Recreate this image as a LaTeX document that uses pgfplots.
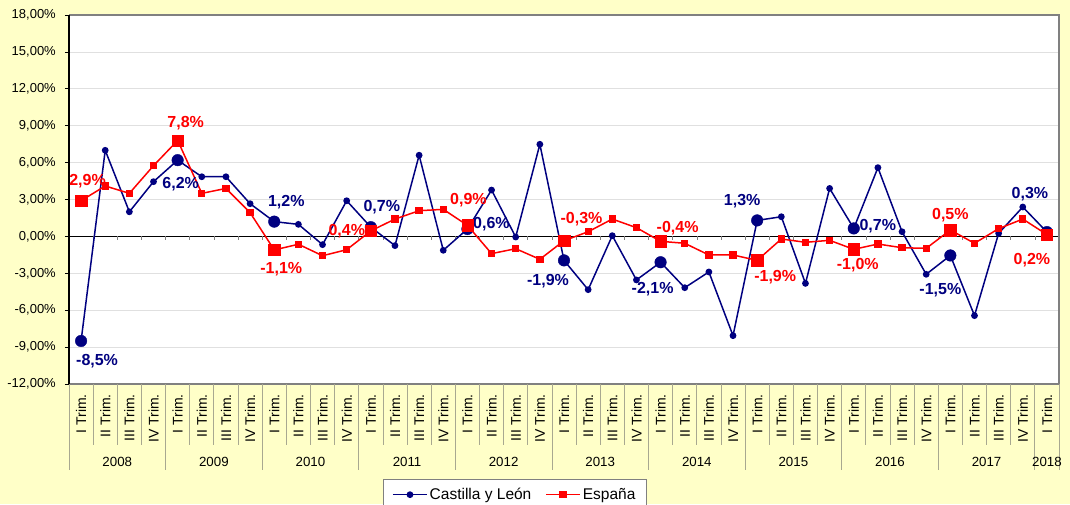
\documentclass[border=0pt]{standalone}
\usepackage{pgfplots}
\pgfplotsset{compat=1.18}
\usepackage{pgfplotstable}
\usepackage{fontspec}
\setmainfont{Liberation Sans}
\definecolor{bgy}{HTML}{FFFFC8}
\definecolor{navy}{HTML}{000080}
\definecolor{sep}{HTML}{A8A890}
\definecolor{frame}{HTML}{808080}

\pgfplotstableread{
x cyl esp
0 -8.5 2.9
1 7.0 4.1
2 2.0 3.5
3 4.45 5.75
4 6.2 7.8
5 4.85 3.5
6 4.85 3.9
7 2.66 1.93
8 1.2 -1.1
9 0.98 -0.64
10 -0.67 -1.57
11 2.9 -1.08
12 0.75 0.45
13 -0.75 1.41
14 6.6 2.09
15 -1.13 2.2
16 0.6 0.9
17 3.77 -1.4
18 -0.05 -1.0
19 7.49 -1.86
20 -1.95 -0.35
21 -4.33 0.38
22 0.06 1.41
23 -3.54 0.71
24 -2.1 -0.4
25 -4.17 -0.56
26 -2.89 -1.51
27 -8.07 -1.51
28 1.3 -1.95
29 1.6 -0.21
30 -3.82 -0.48
31 3.9 -0.32
32 0.65 -1.05
33 5.59 -0.62
34 0.38 -0.92
35 -3.08 -0.97
36 -1.55 0.52
37 -6.44 -0.56
38 0.25 0.63
39 2.39 1.41
40 0.35 0.15
}\data

\def\qA{I Trim.}
\def\qB{II Trim.}
\def\qC{III Trim.}
\def\qD{IV Trim.}

\begin{document}
\begin{tikzpicture}[x=1pt,y=1pt]
\fill[bgy] (-69,-120) rectangle (1001,384);
\path[use as bounding box] (-69,-120) rectangle (1001,384);
\begin{axis}[
  at={(0,0)}, anchor=south west,
  scale only axis, width=990pt, height=369pt,
  xmin=-0.5, xmax=40.5, ymin=-12, ymax=18,
  clip=false,
  axis background/.style={fill=white},
  axis line style={draw=none},
  xtick=\empty,
  ytick={-12,-9,...,18},
  yticklabels={{-12,00\%},{-9,00\%},{-6,00\%},{-3,00\%},{0,00\%},{3,00\%},{6,00\%},{9,00\%},{12,00\%},{15,00\%},{18,00\%}},
  ytick pos=left,
  tick align=outside,
  major tick length=4pt,
  y tick style={black, line width=0.8pt},
  yticklabel style={font=\fontsize{13}{14}\selectfont, inner sep=0pt, xshift=-9pt},
  ymajorgrids,
  grid style={draw=black!12, line width=0.8pt},
  legend style={at={(axis description cs:0.3172,-0.2575)}, anchor=north west,
    draw=frame, fill=white, font=\fontsize{15.5}{17}\selectfont,
    inner xsep=9pt, inner ysep=7pt, legend cell align=left},
  legend columns=2,
  /tikz/every even column/.append style={column sep=12pt},
  legend image code/.code={\draw[mark repeat=2,mark phase=2,#1] plot coordinates {(0pt,0pt)(17pt,0pt)(34pt,0pt)};},
]
% zero line and boundary ticks
\draw[black, line width=1pt] (axis cs:-0.5,0) -- (axis cs:40.5,0);
\pgfplotsinvokeforeach{0,...,40}{
  \draw[frame, line width=0.6pt] (axis cs:#1-0.5,0) -- ++(0pt,-4pt);
}
% series
\addplot[navy, line width=1.5pt, mark=*, mark size=2.6pt] table[x=x,y=cyl]{\data};
\addlegendentry{Castilla y León}
\addplot[red, line width=1.5pt, mark=square*, mark size=2.9pt] table[x=x,y=esp]{\data};
\addlegendentry{España}
\addplot[navy, only marks, mark=*, mark size=5.8pt, each nth point=4, forget plot] table[x=x,y=cyl]{\data};
\addplot[red, only marks, mark=square*, mark size=5.7pt, each nth point=4, forget plot] table[x=x,y=esp]{\data};
% frame
\draw[frame, line width=1.5pt] (rel axis cs:0,0) -- (rel axis cs:1,0) -- (rel axis cs:1,1) -- (rel axis cs:0,1);
\draw[black, line width=1.3pt] (rel axis cs:0,0) -- (rel axis cs:0,1);
% category labels and separators
\tikzset{ql/.style={yshift=-10pt, rotate=90, anchor=east, inner sep=0pt, font=\fontsize{14}{15}\selectfont}}
\pgfplotsinvokeforeach{0,4,...,40}{
  \node[ql] at (axis cs:#1,-12) {\qA};
}
\pgfplotsinvokeforeach{1,5,...,37}{
  \node[ql] at (axis cs:#1,-12) {\qB};
}
\pgfplotsinvokeforeach{2,6,...,38}{
  \node[ql] at (axis cs:#1,-12) {\qC};
}
\pgfplotsinvokeforeach{3,7,...,39}{
  \node[ql] at (axis cs:#1,-12) {\qD};
}
\pgfplotsinvokeforeach{0,...,40}{
  \draw[sep, line width=0.8pt] (axis cs:#1-0.5,-12) -- ++(0pt,-61pt);
}
\pgfplotsinvokeforeach{0,4,...,40}{
  \draw[sep, line width=0.8pt] (axis cs:#1-0.5,-12) -- ++(0pt,-86pt);
}
\draw[sep, line width=0.8pt] (axis cs:40.5,-12) -- ++(0pt,-86pt);
\pgfplotsinvokeforeach{2008,...,2017}{
  \node[font=\fontsize{13.3}{14}\selectfont] at (axis cs:{(#1-2008)*4+1.5},-12) [yshift=-78pt] {#1};
}
\node[font=\fontsize{13.3}{14}\selectfont] at (axis cs:40,-12) [yshift=-78pt] {2018};
% data labels
\tikzset{lr/.style={font=\bfseries\fontsize{16}{18}\selectfont, text=red, inner sep=0pt},
         lb/.style={font=\bfseries\fontsize{16}{18}\selectfont, text=navy, inner sep=0pt}}
\node[lr, xshift=6.5pt, yshift=20pt] at (axis cs:0,2.9) {2,9\%};
\node[lr, xshift=8pt, yshift=17pt] at (axis cs:4,7.8) {7,8\%};
\node[lr, xshift=7pt, yshift=-19pt] at (axis cs:8,-1.1) {-1,1\%};
\node[lr, xshift=-24pt, yshift=0pt] at (axis cs:12,0.45) {0,4\%};
\node[lr, xshift=1pt, yshift=24.7pt] at (axis cs:16,0.9) {0,9\%};
\node[lr, xshift=17.5pt, yshift=22pt] at (axis cs:20,-0.35) {-0,3\%};
\node[lr, xshift=17pt, yshift=13pt] at (axis cs:24,-0.4) {-0,4\%};
\node[lr, xshift=18pt, yshift=-17pt] at (axis cs:28,-1.95) {-1,9\%};
\node[lr, xshift=4pt, yshift=-16pt] at (axis cs:32,-1.05) {-1,0\%};
\node[lr, xshift=0pt, yshift=14.5pt] at (axis cs:36,0.52) {0,5\%};
\node[lr, xshift=-15pt, yshift=-26pt] at (axis cs:40,0.15) {0,2\%};
\node[lb, xshift=16pt, yshift=-20pt] at (axis cs:0,-8.5) {-8,5\%};
\node[lb, xshift=3pt, yshift=-24pt] at (axis cs:4,6.2) {6,2\%};
\node[lb, xshift=12pt, yshift=19.6pt] at (axis cs:8,1.2) {1,2\%};
\node[lb, xshift=11pt, yshift=20pt] at (axis cs:12,0.75) {0,7\%};
\node[lb, xshift=24pt, yshift=4.5pt] at (axis cs:16,0.6) {0,6\%};
\node[lb, xshift=-16pt, yshift=-21pt] at (axis cs:20,-1.95) {-1,9\%};
\node[lb, xshift=-8pt, yshift=-27pt] at (axis cs:24,-2.1) {-2,1\%};
\node[lb, xshift=-15pt, yshift=19pt] at (axis cs:28,1.3) {1,3\%};
\node[lb, xshift=24pt, yshift=2pt] at (axis cs:32,0.65) {0,7\%};
\node[lb, xshift=-10pt, yshift=-35pt] at (axis cs:36,-1.55) {-1,5\%};
\node[lb, xshift=-17pt, yshift=38pt] at (axis cs:40,0.35) {0,3\%};
\end{axis}
\end{tikzpicture}
\end{document}
